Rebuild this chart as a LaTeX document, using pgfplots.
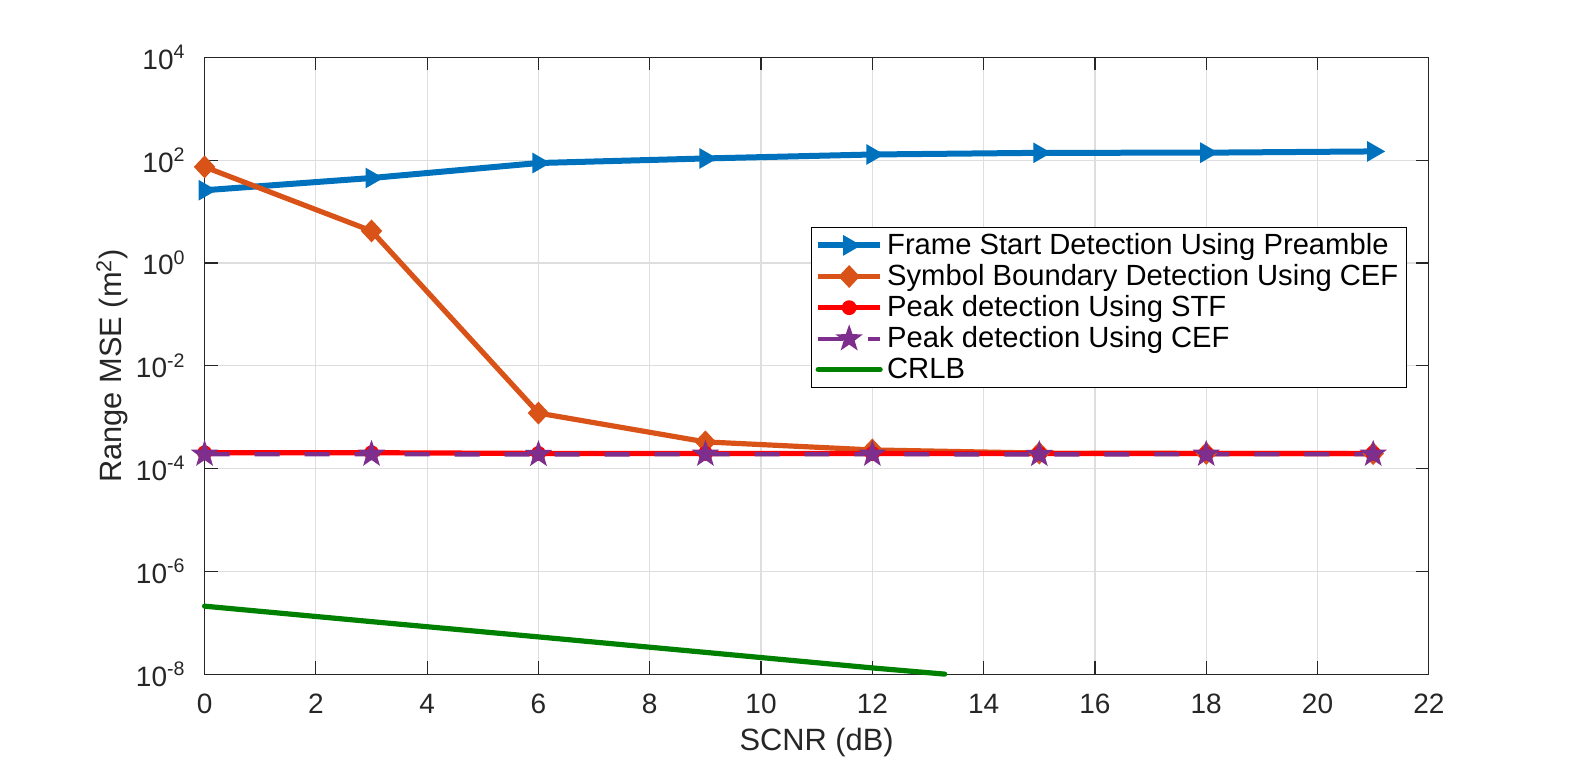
\documentclass[border=0pt]{standalone}
\usepackage{fontspec}
\setmainfont{Liberation Sans}
\usepackage{pgfplots}
\pgfplotsset{compat=1.18}

\definecolor{mblue}{rgb}{0,0.447,0.741}
\definecolor{morange}{rgb}{0.85,0.325,0.098}
\definecolor{mpurple}{rgb}{0.494,0.184,0.556}
\definecolor{mgreen}{rgb}{0,0.5,0}
\definecolor{axcol}{rgb}{0.15,0.15,0.15}
\definecolor{gridcol}{rgb}{0.87,0.87,0.87}

% filled five-pointed star
\pgfdeclareplotmark{pentagram}{%
  \pgfpathmoveto{\pgfpointpolar{90}{\pgfplotmarksize}}%
  \pgfpathlineto{\pgfpointpolar{126}{0.40\pgfplotmarksize}}%
  \pgfpathlineto{\pgfpointpolar{162}{\pgfplotmarksize}}%
  \pgfpathlineto{\pgfpointpolar{198}{0.40\pgfplotmarksize}}%
  \pgfpathlineto{\pgfpointpolar{234}{\pgfplotmarksize}}%
  \pgfpathlineto{\pgfpointpolar{270}{0.40\pgfplotmarksize}}%
  \pgfpathlineto{\pgfpointpolar{306}{\pgfplotmarksize}}%
  \pgfpathlineto{\pgfpointpolar{342}{0.40\pgfplotmarksize}}%
  \pgfpathlineto{\pgfpointpolar{18}{\pgfplotmarksize}}%
  \pgfpathlineto{\pgfpointpolar{54}{0.40\pgfplotmarksize}}%
  \pgfpathclose
  \pgfusepathqfillstroke}

\begin{document}
\begin{tikzpicture}
% page: figure margins around the 612.2pt x 308.4pt plot box
\useasboundingbox (-102.3pt,-42.5pt) rectangle (687.8pt,337.1pt);
\begin{axis}[
  at={(0pt,0pt)}, anchor=south west,
  scale only axis,
  width=612.2pt, height=308.4pt,
  xmin=0, xmax=22,
  ymode=log, ymin=1e-8, ymax=1e4,
  clip=false,
  xtick={0,2,...,22},
  ytick={1e-8,1e-6,1e-4,1e-2,1e0,1e2,1e4},
  yticklabels={10\textsuperscript{-8},10\textsuperscript{-6},10\textsuperscript{-4},10\textsuperscript{-2},10\textsuperscript{0},10\textsuperscript{2},10\textsuperscript{4}},
  minor tick num=0,
  yminorticks=false,
  xmajorgrids, ymajorgrids,
  major grid style={gridcol, line width=0.6pt},
  axis line style={axcol, line width=0.6pt},
  tick style={axcol, line width=0.6pt},
  major tick length=6.5pt,
  tick align=inside,
  /pgf/number format/assume math mode=true,
  ticklabel style={font=\fontsize{14}{16}\selectfont, text=axcol},
  xticklabel style={yshift=-6.5pt},
  yticklabel style={xshift=-6pt},
  xlabel={SCNR (dB)},
  ylabel={Range MSE (m\textsuperscript{2})},
  label style={font=\fontsize{15.4}{18}\selectfont, text=axcol},
  xlabel style={inner sep=0pt, yshift=-3.5pt},
  ylabel style={yshift=-3pt},
  legend style={
    at={(0.495,0.7255)}, anchor=north west,
    draw=black, line width=0.6pt, fill=white,
    font=\fontsize{14.6}{16}\selectfont,
    inner xsep=2pt, inner ysep=1pt,
    row sep=-0.5pt,
    cells={anchor=west},
  },
  legend image code/.code={%
    \draw[mark repeat=2,mark phase=2]
      plot coordinates {(0pt,0pt) (15.5pt,0pt) (31pt,0pt)};},
]
\addplot[mblue, line width=3pt, mark=triangle*, mark size=5pt,
  mark options={rotate=-90, solid, line width=1pt}]
  coordinates {(0,26) (3,45) (6,88) (9,108) (12,129) (15,139) (18,140) (21,148)};
\addlegendentry{Frame Start Detection Using Preamble}

\addplot[morange, line width=2.6pt, mark=diamond*, mark size=5pt,
  mark options={solid, line width=1pt, xscale=1.25}]
  coordinates {(0,74) (3,4.2) (6,1.2e-3) (9,3.3e-4) (12,2.3e-4) (15,2.0e-4) (18,1.97e-4) (21,1.95e-4)};
\addlegendentry{Symbol Boundary Detection Using CEF}

\addplot[red, line width=2.6pt, mark=*, mark size=3.2pt,
  mark options={solid, line width=1pt}]
  coordinates {(0,2.02e-4) (3,2.03e-4) (6,1.97e-4) (9,1.97e-4) (12,1.96e-4) (15,1.95e-4) (18,1.96e-4) (21,1.96e-4)};
\addlegendentry{Peak detection Using STF}

\addplot[mpurple, line width=2.2pt, dash pattern=on 12.5pt off 12.5pt,
  mark=pentagram, mark size=6pt,
  mark options={solid, line width=0.8pt}]
  coordinates {(0,1.9e-4) (3,1.9e-4) (6,1.88e-4) (9,1.9e-4) (12,1.9e-4) (15,1.88e-4) (18,1.9e-4) (21,1.9e-4)};
\addlegendentry{Peak detection Using CEF}

\addplot[mgreen, line width=2.6pt, line cap=round]
  coordinates {(0,2.1e-7) (3,1.05e-7) (6,5.3e-8) (9,2.65e-8) (12,1.32e-8) (13.3,1.0e-8)};
\addlegendentry{CRLB}
\end{axis}
\end{tikzpicture}
\end{document}
